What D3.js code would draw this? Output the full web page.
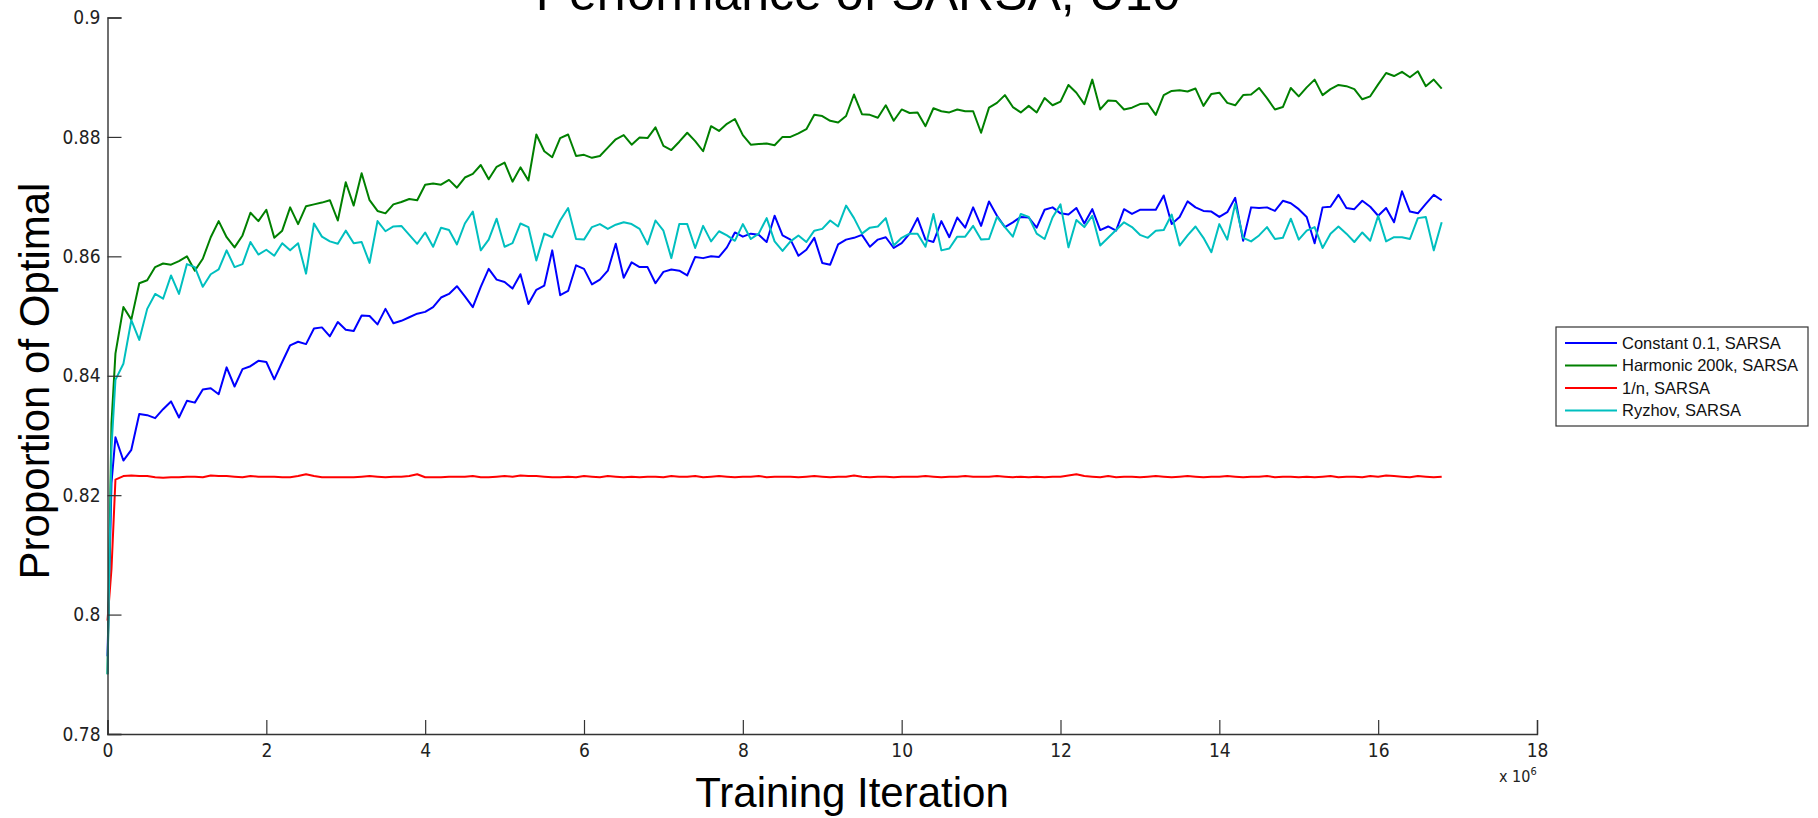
<!DOCTYPE html>
<html>
<head>
<meta charset="utf-8">
<script src="https://cdn.jsdelivr.net/npm/d3@7"></script>
<style>
    body { margin: 0; background: #fff; }
    svg { display: block; }
    .tick-label { font-family: "Liberation Sans Narrow", "Arial Narrow", "DejaVu Sans Condensed", sans-serif; font-size: 19px; fill: #222; }
    .big-label { font-family: "Liberation Sans", Arial, Helvetica, sans-serif; fill: #000; }
    .legend-text { font-family: "Liberation Sans", Arial, sans-serif; font-size: 16.5px; fill: #111; }
</style>
</head>
<body>
<div class="plot" style="width:1818px;height:818px"></div>
<script>

// training iterations (x 10^6): first sample, one early sample, then every 100k
var iterations = [0, 0.05].concat(d3.range(1, 169).map(function(i){ return i / 10; }));

var seriesNames = ["Constant 0.1, SARSA", "Harmonic 200k, SARSA", "1/n, SARSA", "Ryzhov, SARSA"];
var seriesColors = ["#0000ff", "#008000", "#ff0000", "#00bfbf"];

var constantVals = [0.793, 0.822,
    0.8297, 0.8258, 0.8276, 0.8336, 0.8334, 0.8329, 0.8344, 0.8357, 0.8330, 0.8358,
    0.8355, 0.8377, 0.8379, 0.8369, 0.8414, 0.8382, 0.8411, 0.8416, 0.8425, 0.8423,
    0.8394, 0.8423, 0.8451, 0.8457, 0.8453, 0.8479, 0.8481, 0.8466, 0.8490, 0.8477,
    0.8475, 0.8501, 0.8500, 0.8486, 0.8512, 0.8488, 0.8492, 0.8498, 0.8504, 0.8507,
    0.8515, 0.8531, 0.8537, 0.8550, 0.8533, 0.8515, 0.8549, 0.8579, 0.8561, 0.8557,
    0.8546, 0.8570, 0.8520, 0.8544, 0.8551, 0.8610, 0.8535, 0.8542, 0.8585, 0.8579,
    0.8553, 0.8561, 0.8576, 0.8621, 0.8564, 0.8590, 0.8582, 0.8582, 0.8555, 0.8574,
    0.8578, 0.8576, 0.8568, 0.8599, 0.8597, 0.8600, 0.8599, 0.8615, 0.8640, 0.8633,
    0.8638, 0.8636, 0.8624, 0.8668, 0.8635, 0.8628, 0.8601, 0.8611, 0.8631, 0.8589,
    0.8586, 0.8620, 0.8628, 0.8631, 0.8636, 0.8616, 0.8628, 0.8632, 0.8614, 0.8622,
    0.8638, 0.8664, 0.8628, 0.8624, 0.8659, 0.8632, 0.8665, 0.8648, 0.8682, 0.8651,
    0.8692, 0.8668, 0.8649, 0.8657, 0.8666, 0.8665, 0.8648, 0.8678, 0.8682, 0.8672,
    0.8670, 0.8681, 0.8655, 0.8679, 0.8644, 0.8650, 0.8643, 0.8679, 0.8671, 0.8678,
    0.8678, 0.8678, 0.8702, 0.8654, 0.8666, 0.8692, 0.8682, 0.8676, 0.8675, 0.8666,
    0.8674, 0.8698, 0.8626, 0.8682, 0.8681, 0.8682, 0.8676, 0.8693, 0.8689, 0.8679,
    0.8666, 0.8622, 0.8682, 0.8683, 0.8703, 0.8681, 0.8679, 0.8693, 0.8683, 0.8668,
    0.8681, 0.8657, 0.8709, 0.8675, 0.8672, 0.8688, 0.8703, 0.8694];

var harmonicVals = [0.790, 0.832,
    0.8437, 0.8515, 0.8494, 0.8555, 0.8560, 0.8582, 0.8588, 0.8586, 0.8592, 0.8600,
    0.8576, 0.8596, 0.8632, 0.8659, 0.8632, 0.8615, 0.8635, 0.8673, 0.8659, 0.8678,
    0.8631, 0.8643, 0.8682, 0.8654, 0.8684, 0.8687, 0.8690, 0.8694, 0.8660, 0.8724,
    0.8685, 0.8739, 0.8694, 0.8676, 0.8672, 0.8687, 0.8691, 0.8696, 0.8694, 0.8720,
    0.8722, 0.8720, 0.8728, 0.8715, 0.8732, 0.8738, 0.8753, 0.8729, 0.8750, 0.8757,
    0.8725, 0.8749, 0.8727, 0.8804, 0.8776, 0.8766, 0.8798, 0.8804, 0.8768, 0.8770,
    0.8765, 0.8768, 0.8782, 0.8796, 0.8803, 0.8787, 0.8799, 0.8798, 0.8816, 0.8785,
    0.8778, 0.8792, 0.8807, 0.8793, 0.8776, 0.8818, 0.8810, 0.8822, 0.8830, 0.8803,
    0.8787, 0.8788, 0.8789, 0.8786, 0.8800, 0.8800, 0.8806, 0.8813, 0.8837, 0.8835,
    0.8827, 0.8824, 0.8835, 0.8871, 0.8838, 0.8837, 0.8832, 0.8853, 0.8827, 0.8846,
    0.8840, 0.8841, 0.8818, 0.8848, 0.8843, 0.8841, 0.8846, 0.8843, 0.8843, 0.8807,
    0.8849, 0.8857, 0.8870, 0.8850, 0.8841, 0.8852, 0.8841, 0.8865, 0.8853, 0.8859,
    0.8887, 0.8874, 0.8855, 0.8896, 0.8846, 0.8861, 0.8860, 0.8846, 0.8849, 0.8855,
    0.8856, 0.8837, 0.8870, 0.8877, 0.8878, 0.8876, 0.8881, 0.8852, 0.8872, 0.8874,
    0.8857, 0.8853, 0.8870, 0.8871, 0.8882, 0.8865, 0.8846, 0.8850, 0.8882, 0.8868,
    0.8883, 0.8896, 0.8870, 0.8880, 0.8887, 0.8885, 0.8880, 0.8863, 0.8868, 0.8888,
    0.8907, 0.8902, 0.8909, 0.8900, 0.8910, 0.8885, 0.8896, 0.8881];

var inverseNVals = [0.799, 0.8076,
    0.8226, 0.8232, 0.8233, 0.8232, 0.8232, 0.8230, 0.8229, 0.8230, 0.8230, 0.8231,
    0.8231, 0.8230, 0.8233, 0.8232, 0.8232, 0.8231, 0.8230, 0.8232, 0.8231, 0.8231,
    0.8231, 0.8230, 0.8230, 0.8232, 0.8235, 0.8232, 0.8230, 0.8230, 0.8230, 0.8230,
    0.8230, 0.8231, 0.8232, 0.8231, 0.8230, 0.8231, 0.8231, 0.8232, 0.8235, 0.8230,
    0.8230, 0.8230, 0.8231, 0.8231, 0.8231, 0.8232, 0.8230, 0.8230, 0.8231, 0.8232,
    0.8231, 0.8233, 0.8232, 0.8232, 0.8231, 0.8230, 0.8230, 0.8231, 0.8230, 0.8232,
    0.8231, 0.8230, 0.8232, 0.8231, 0.8230, 0.8231, 0.8230, 0.8231, 0.8231, 0.8230,
    0.8232, 0.8231, 0.8231, 0.8232, 0.8230, 0.8231, 0.8232, 0.8231, 0.8230, 0.8231,
    0.8231, 0.8232, 0.8230, 0.8231, 0.8231, 0.8231, 0.8230, 0.8231, 0.8232, 0.8231,
    0.8230, 0.8231, 0.8231, 0.8233, 0.8231, 0.8230, 0.8231, 0.8231, 0.8230, 0.8231,
    0.8231, 0.8231, 0.8232, 0.8231, 0.8230, 0.8231, 0.8231, 0.8232, 0.8231, 0.8231,
    0.8231, 0.8232, 0.8231, 0.8230, 0.8231, 0.8230, 0.8231, 0.8230, 0.8231, 0.8231,
    0.8233, 0.8235, 0.8232, 0.8231, 0.8230, 0.8232, 0.8230, 0.8231, 0.8231, 0.8230,
    0.8231, 0.8232, 0.8231, 0.8230, 0.8231, 0.8232, 0.8231, 0.8230, 0.8231, 0.8231,
    0.8232, 0.8231, 0.8230, 0.8231, 0.8231, 0.8232, 0.8230, 0.8231, 0.8231, 0.8230,
    0.8231, 0.8230, 0.8231, 0.8232, 0.8230, 0.8231, 0.8231, 0.8230, 0.8232, 0.8231,
    0.8233, 0.8232, 0.8231, 0.8230, 0.8232, 0.8231, 0.8230, 0.8231];

var ryzhovVals = [0.790, 0.828,
    0.8393, 0.8420, 0.8493, 0.8460, 0.8512, 0.8537, 0.8529, 0.8568, 0.8537, 0.8587,
    0.8582, 0.8549, 0.8570, 0.8578, 0.8610, 0.8582, 0.8587, 0.8624, 0.8603, 0.8611,
    0.8601, 0.8622, 0.8610, 0.8622, 0.8571, 0.8655, 0.8633, 0.8625, 0.8621, 0.8643,
    0.8622, 0.8624, 0.8589, 0.8659, 0.8642, 0.8650, 0.8651, 0.8636, 0.8621, 0.8640,
    0.8616, 0.8648, 0.8644, 0.8620, 0.8655, 0.8675, 0.8610, 0.8628, 0.8663, 0.8616,
    0.8622, 0.8655, 0.8649, 0.8593, 0.8638, 0.8632, 0.8660, 0.8681, 0.8629, 0.8628,
    0.8649, 0.8654, 0.8646, 0.8653, 0.8657, 0.8654, 0.8646, 0.8620, 0.8660, 0.8643,
    0.8597, 0.8654, 0.8654, 0.8614, 0.8651, 0.8625, 0.8642, 0.8635, 0.8626, 0.8654,
    0.8629, 0.8638, 0.8664, 0.8625, 0.8609, 0.8625, 0.8635, 0.8624, 0.8643, 0.8646,
    0.8660, 0.8650, 0.8685, 0.8664, 0.8638, 0.8648, 0.8650, 0.8664, 0.8618, 0.8631,
    0.8638, 0.8638, 0.8616, 0.8671, 0.8610, 0.8613, 0.8633, 0.8633, 0.8651, 0.8628,
    0.8629, 0.8666, 0.8649, 0.8633, 0.8671, 0.8666, 0.8638, 0.8629, 0.8665, 0.8687,
    0.8615, 0.8661, 0.8649, 0.8668, 0.8618, 0.8631, 0.8644, 0.8657, 0.8649, 0.8636,
    0.8631, 0.8643, 0.8644, 0.8670, 0.8618, 0.8635, 0.8650, 0.8631, 0.8607, 0.8654,
    0.8628, 0.8688, 0.8631, 0.8625, 0.8635, 0.8649, 0.8629, 0.8631, 0.8663, 0.8628,
    0.8643, 0.8649, 0.8614, 0.8638, 0.8650, 0.8638, 0.8624, 0.8640, 0.8626, 0.8668,
    0.8625, 0.8632, 0.8632, 0.8629, 0.8664, 0.8666, 0.8610, 0.8657];

var xTicks = [0, 2, 4, 6, 8, 10, 12, 14, 16, 18];
var yTicks = [0.78, 0.8, 0.82, 0.84, 0.86, 0.88, 0.9];

var titleText = "Performance of SARSA, U10";
var xLabelText = "Training Iteration";
var yLabelText = "Proportion of Optimal";

function Chart(){

    var W = 1818, H = 818,
        m = {t:17.5, r:281, b:84, l:107.5},
        tickLen = 14;

    var exports = function(selection){
        var svg = selection.append("svg")
            .attr("width", W)
            .attr("height", H);

        svg.append("rect").attr("width", W).attr("height", H).attr("fill", "#fff");

        var scaleX = d3.scaleLinear().domain([0, 18]).range([m.l, W - m.r]);
        var scaleY = d3.scaleLinear().domain([0.78, 0.9]).range([H - m.b, m.t]);

        var series = [constantVals, harmonicVals, inverseNVals, ryzhovVals];

        var lineGenerator = d3.line()
            .x(function(d, i){ return scaleX(iterations[i]); })
            .y(function(d){ return scaleY(d); });

        svg.selectAll(".series")
            .data(series)
            .enter().append("path")
            .attr("class", "series")
            .attr("d", lineGenerator)
            .attr("fill", "none")
            .attr("stroke", function(d, i){ return seriesColors[i]; })
            .attr("stroke-width", 2)
            .attr("stroke-linejoin", "round");

        // axes, ticks pointing inward like matlab
        var xAxis = d3.axisBottom(scaleX).tickValues(xTicks).tickSize(-tickLen).tickPadding(6)
            .tickFormat(d3.format("d"));
        var yAxis = d3.axisLeft(scaleY).tickValues(yTicks).tickSize(-tickLen).tickPadding(7)
            .tickFormat(function(d){ return d3.format("")(+d.toFixed(2)); });

        var gx = svg.append("g").attr("transform", "translate(0," + scaleY(0.78) + ")").call(xAxis);
        var gy = svg.append("g").attr("transform", "translate(" + scaleX(0) + ",0)").call(yAxis);

        [gx, gy].forEach(function(g){
            g.select(".domain").attr("stroke", "#333").attr("stroke-width", 1.4);
            g.selectAll(".tick line").attr("stroke", "#333").attr("stroke-width", 1.2);
            g.selectAll(".tick text").attr("class", "tick-label").attr("fill", null);
            g.attr("font-family", null).attr("font-size", null);
        });
        gx.selectAll(".tick text").attr("dy", "0.9em");

        // exponent label
        var expo = svg.append("text")
            .attr("class", "tick-label")
            .attr("x", 1499)
            .attr("y", 782)
            .style("font-size", "16px");
        expo.append("tspan").text("x 10");
        expo.append("tspan").attr("dy", -7).style("font-size", "11px").text("6");

        // title sits mostly above the canvas, as in the original figure
        svg.append("text")
            .attr("class", "big-label")
            .attr("x", 858)
            .attr("y", 10)
            .attr("text-anchor", "middle")
            .style("font-size", "50px")
            .text(titleText);

        svg.append("text")
            .attr("class", "big-label")
            .attr("x", 852)
            .attr("y", 807)
            .attr("text-anchor", "middle")
            .style("font-size", "42px")
            .text(xLabelText);

        svg.append("text")
            .attr("class", "big-label")
            .attr("transform", "translate(49,381) rotate(-90)")
            .attr("text-anchor", "middle")
            .style("font-size", "42px")
            .text(yLabelText);

        // legend
        var lg = svg.append("g").attr("transform", "translate(1556,327)");
        lg.append("rect")
            .attr("width", 252)
            .attr("height", 99)
            .attr("fill", "#fff")
            .attr("stroke", "#333")
            .attr("stroke-width", 1.2);

        var rows = lg.selectAll(".row")
            .data(seriesNames)
            .enter().append("g")
            .attr("class", "row")
            .attr("transform", function(d, i){ return "translate(0," + (16 + i * 22.5) + ")"; });

        rows.append("line")
            .attr("x1", 9).attr("x2", 61)
            .attr("stroke", function(d, i){ return seriesColors[i]; })
            .attr("stroke-width", 2);

        rows.append("text")
            .attr("class", "legend-text")
            .attr("x", 66)
            .attr("dy", "0.36em")
            .text(function(d){ return d; });
    };

    return exports;
}

d3.select(".plot").call(Chart());

</script>
</body>
</html>
